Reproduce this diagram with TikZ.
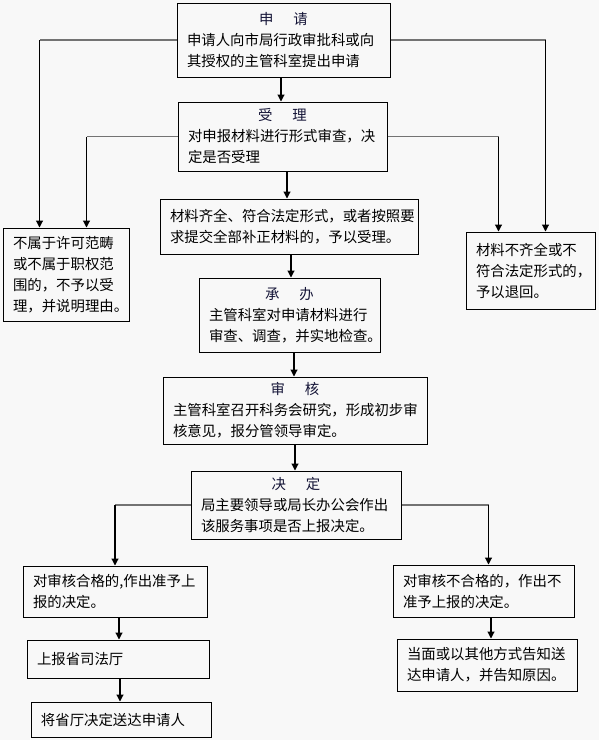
\documentclass[tikz,border=0pt]{standalone}
\usepackage{fontspec}
\newfontfamily\cjk{Noto Sans CJK SC}
\usetikzlibrary{arrows.meta}
\definecolor{bg}{RGB}{248,248,248}
\definecolor{titlec}{RGB}{20,20,55}
\newcommand\mytitle[2]{\makebox[\linewidth]{\color{titlec}#1\hspace{20pt}#2}}
\begin{document}
\begin{tikzpicture}[x=1pt,y=-1pt,
  box/.style={draw=black, line width=1pt, inner xsep=10pt, inner ysep=0pt, align=left,
    font=\cjk\fontsize{14.4}{21}\selectfont},
  hl/.style={draw=black!55, line width=1.5pt},
  arr/.style={draw=black, line width=1.1pt, -{Triangle[length=7pt,width=7pt]}}]
\fill[bg] (0,0) rectangle (599,740);
\useasboundingbox (0,0) rectangle (599,740);

\node[box, minimum width=213pt, minimum height=74pt, text width=193pt] (sq) at (283.5,40)
  {\mytitle{申}{请}\\申请人向市局行政审批科或向\\其授权的主管科室提出申请};
\node[box, minimum width=209pt, minimum height=69pt, text width=189pt] (sl) at (282.5,136.5)
  {\mytitle{受}{理}\\对申报材料进行形式审查，决\\定是否受理};
\node[box, minimum width=258pt, minimum height=55pt, text width=238pt] (cl) at (289,226.5)
  {材料齐全、符合法定形式，或者按照要\\求提交全部补正材料的，予以受理。};
\node[box, minimum width=126pt, minimum height=93pt, text width=106pt] (bs) at (66,274.5)
  {不属于许可范畴\\或不属于职权范\\围的，不予以受\\理，并说明理由。};
\node[box, minimum width=129pt, minimum height=77pt, text width=109pt] (th) at (530.5,270.5)
  {材料不齐全或不\\符合法定形式的，\\予以退回。};
\node[box, minimum width=181pt, minimum height=74pt, text width=161pt] (cb) at (289.5,315)
  {\mytitle{承}{办}\\主管科室对申请材料进行\\审查、调查，并实地检查。};
\node[box, minimum width=264pt, minimum height=67pt, text width=244pt] (sh) at (295,410.5)
  {\mytitle{审}{核}\\主管科室召开科务会研究，形成初步审\\核意见，报分管领导审定。};
\node[box, minimum width=210pt, minimum height=68pt, text width=190pt] (jd) at (296,505)
  {\mytitle{决}{定}\\局主要领导或局长办公会作出\\该服务事项是否上报决定。};
\node[box, minimum width=184pt, minimum height=51pt, text width=164pt] (hg) at (115,591.5)
  {对审核合格的,作出准予上\\报的决定。};
\node[box, minimum width=182pt, minimum height=38pt, text width=162pt] (sb) at (118,659)
  {上报省司法厅};
\node[box, minimum width=180pt, minimum height=35pt, text width=160pt] (sd) at (121,719.5)
  {将省厅决定送达申请人};
\node[box, minimum width=181pt, minimum height=52pt, text width=161pt] (bh) at (483.5,591)
  {对审核不合格的，作出不\\准予上报的决定。};
\node[box, minimum width=180pt, minimum height=52pt, text width=160pt] (dm) at (487,665)
  {当面或以其他方式告知送\\达申请人，并告知原因。};

% side branches
\coordinate (l1) at ([xshift=37pt]bs.north west |- sq.west);
\coordinate (l2) at ([xshift=84pt]bs.north west |- sl.west);
\coordinate (r1) at ([xshift=80pt]th.north west |- sq.east);
\coordinate (r2) at ([xshift=33pt]th.north west |- sl.east);
\coordinate (l3) at (hg.north |- jd.west);
\coordinate (r3) at ([xshift=96pt]bh.north west |- jd.east);
\draw[hl] (sq.west) -- (l1);
\draw[hl] (sl.west) -- (l2);
\draw[hl] (sq.east) -- (r1);
\draw[hl] (sl.east) -- (r2);
\draw[hl] (jd.west) -- (l3);
\draw[hl] (jd.east) -- (r3);
\draw[arr] (l1) -- (l1 |- bs.north);
\draw[arr] (l2) -- (l2 |- bs.north);
\draw[arr] (r1) -- (r1 |- th.north);
\draw[arr] (r2) -- (r2 |- th.north);
\draw[arr] (l3) -- (l3 |- hg.north);
\draw[arr] (r3) -- (r3 |- bh.north);

% main flow
\draw[arr] ([xshift=-2.5pt]sq.south) -- ([xshift=-2.5pt]sq.south |- sl.north);
\draw[arr] ([xshift=4.5pt]sl.south) -- ([xshift=4.5pt]sl.south |- cl.north);
\draw[arr] ([xshift=2pt]cl.south) -- ([xshift=2pt]cl.south |- cb.north);
\draw[arr] ([xshift=4.5pt]cb.south) -- ([xshift=4.5pt]cb.south |- sh.north);
\draw[arr] (sh.south) -- (sh.south |- jd.north);
\draw[arr] ([xshift=4pt]hg.south) -- ([xshift=4pt]hg.south |- sb.north);
\draw[arr] ([xshift=2pt]sb.south) -- ([xshift=2pt]sb.south |- sd.north);
\draw[arr] ([xshift=7.5pt]bh.south) -- ([xshift=7.5pt]bh.south |- dm.north);
\end{tikzpicture}
\end{document}
